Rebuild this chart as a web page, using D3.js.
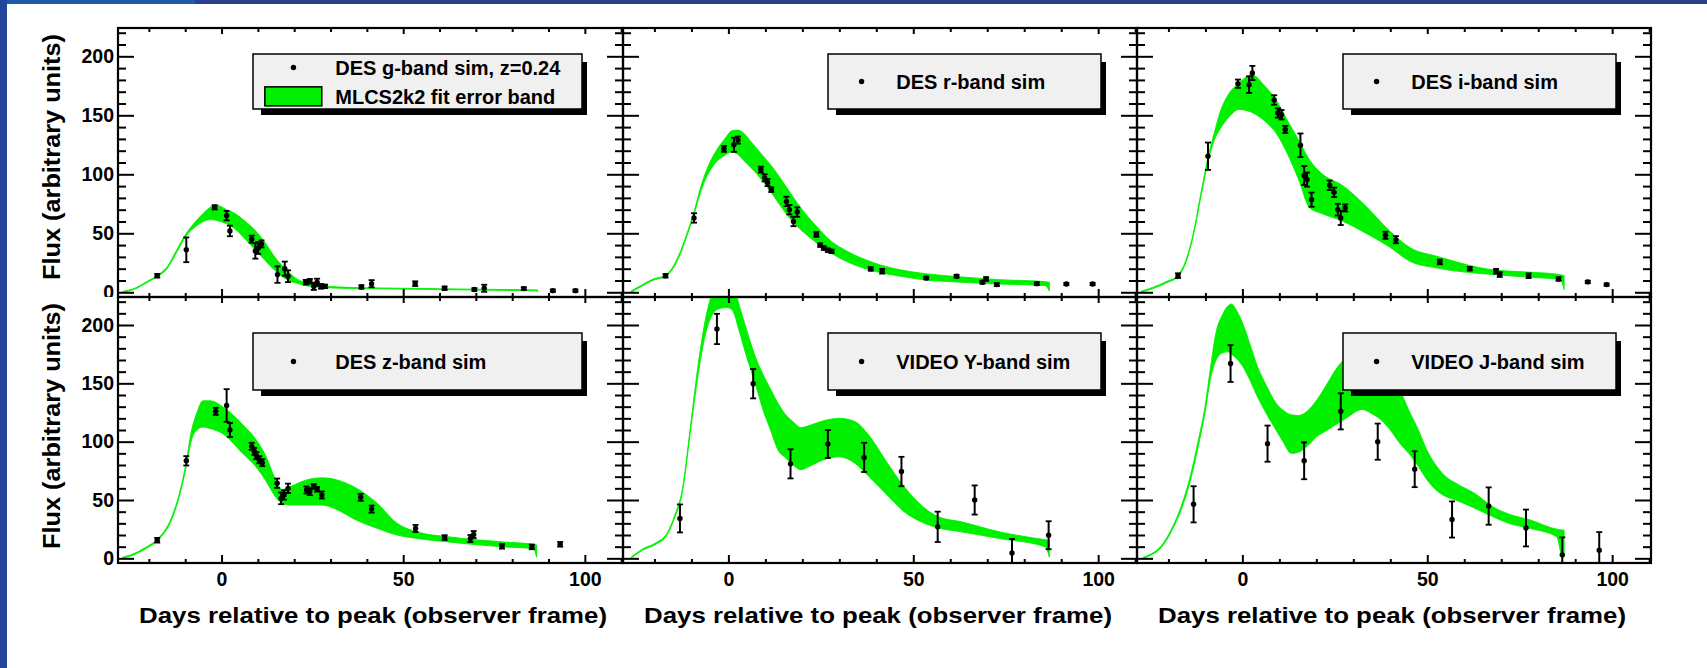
<!DOCTYPE html>
<html>
<head>
<meta charset="utf-8">
<script src="https://cdn.jsdelivr.net/npm/d3@7"></script>
<style>
  body { margin: 0; background: #fff; }
  text { font-family: "Liberation Sans", Arial, Helvetica, sans-serif; font-weight: bold; fill: #000; }
  .tick text { font-size: 19.5px; }
</style>
</head>
<body>
<div id="chart"></div>
<script>
// ---- data ----
// bands: [day, lower flux, upper flux]; points: [day, flux, error]
const gBand = [[-27.2,0,0.8],[-24,2.5,3.3],[-20.5,8.3,9.2],[-17.7,13.3,14.3],[-15,20,21.5],[-12.5,33,35],
  [-9.7,48,50],[-7,56,60.5],[-5,60,67],[-2.9,61.6,72.5],[-1.5,61,74],[1.4,58,70],[3.6,54,67],[5.8,47.5,62],
  [9.1,36.5,53],[12,27,42],[14.5,19,30.5],[18.9,9.3,16],[21,7.5,10.7],[23.2,5.6,8.5],[26,4.5,6.3],[30,3.7,4.8],
  [40,3.1,3.8],[50,2.7,3.4],[60,2.3,3],[70,1.9,2.6],[80,1.5,2.3],[86.5,1.3,2],[87,0.5,2]];
const gPoints = [[-17.7,14,1.5],[-9.7,36,10.5],[-1.9,72,1.8],[1.4,65,4],[2.3,52,4.5],[8.3,45,3],[9.3,35,6.5],
  [10.1,37.5,5],[11,41,3],[15.4,15,7],[17.4,20,6],[18.3,13.6,5],[23.2,8.5,2],[24.3,9.3,2],[25.4,5,3],[26.3,8.5,3],
  [27.4,5,2],[28.5,5,1.5],[38.5,4.5,1.5],[41.3,7.3,3],[53.3,7.3,2],[61.4,3.4,1.5],[69.6,2.3,1.2],[72.3,3.4,3],
  [83.2,3.1,1.2],[91.2,1.4,1],[97.4,1.4,1]];

const rBand = [[-26.3,0,1],[-23.8,4.5,5.5],[-20.5,10,11],[-17,13.5,14.5],[-15,20,21.5],[-13.4,29.5,31.5],
  [-11.3,47,49],[-9.3,66,68],[-7.5,85,89],[-6.2,95.5,101],[-3.1,111,121],[-1,116,130],[1,119,137],[2.5,117,137.5],
  [4.1,112,135],[6,106,128],[8.3,98,119.5],[12.4,81,104],[15.5,67,90],[19.6,53,71.5],[23.8,42,56],[27.9,33,43],
  [32,26,35],[39.3,18,25],[46.5,13.6,19],[52.7,10.7,16],[63,8.5,13],[73.3,7,10.7],[85.7,5.6,9],[86.8,1,8.5]];
const rPoints = [[-17,14,1.5],[-9.3,63,4],[-1.2,121.5,2.5],[1.5,125,6],[2.6,129,3],[8.8,104,2.5],[9.8,97,3],
  [10.6,93,3],[11.6,87,2],[15.7,77,4],[16.5,70,4],[17.6,60,4],[18.6,68,4],[23.8,49,2],[24.8,40,1.5],[25.8,37.5,1.5],
  [26.9,35.6,1.5],[27.9,34.7,1.5],[38.5,19.8,1.5],[41.6,17.8,2],[53.5,12.1,1.2],[61.7,13.6,1.2],[68.7,8.5,1.2],
  [69.7,11.3,1.5],[72.6,6.5,1.2],[83.4,7.3,1.2],[91.4,7,1],[98.5,7,1]];

const iBand = [[-27.3,0,1],[-24.3,3,4],[-20.5,8,9.2],[-17.4,13.3,14.5],[-15.3,25,27],[-13.2,49,51],[-11.1,83,86],
  [-9.1,113,117],[-7.6,129,135],[-6.1,138,152],[-3.5,149,169],[-1,155,177],[2.5,152.5,184.5],[6.1,145,174.6],
  [9.1,135,163],[12.1,118,146],[15.2,95.5,129],[18.2,71.5,112],[21.3,67,101],[27.3,60,90],[33.4,50,73],
  [39.5,39,53],[45.5,26,37.5],[52.6,20.6,30.5],[67.8,15,19],[77.9,12.7,17],[86,10.7,15],[87,2.3,14]];
const iPoints = [[-17.4,14.1,2],[-9.3,115.3,11.6],[-1.2,176.8,3.5],[1.8,176,7],[2.7,185.9,6],[8.6,163,4],
  [9.6,152,4],[10.6,150.5,4],[11.6,138,3],[15.7,124.6,10],[16.7,99,8],[17.5,95.5,6],[18.7,78.5,6],[23.6,90.7,4],
  [24.8,84.7,4],[25.8,70,5],[26.6,63,6],[27.8,71.5,3],[38.7,48.3,3],[41.5,44.6,3],[53.4,25.7,2],[61.5,20,1.5],
  [68.6,17.8,2],[69.6,15,2],[77.4,14,2],[85.5,11.3,1.5],[93.4,8.8,1],[98.5,6.5,1]];

const zBand = [[-27.2,0,1],[-24.8,2.2,3.2],[-21,8,9.2],[-17.7,15,16.3],[-13.9,32,34],[-11.7,52,54.5],
  [-9.7,79,83],[-8.4,100,107.5],[-6.8,110,124.7],[-5.1,112.6,135],[-2.9,111,135],[0,107.5,130.5],[5.8,90,114.7],
  [10.1,76,99],[12.3,66,87],[14.5,54.3,70],[16.7,47,59],[18.9,45.7,61.5],[23.2,45.7,67],[27.6,45.7,69],
  [32,41.4,67],[36.3,34,61.5],[42.9,25.6,47],[48.3,20,30],[53.8,17,22.7],[62.5,14,18.4],[77.8,9.8,14],
  [85.9,8.3,12],[86.7,1,11.5]];
const zPoints = [[-17.7,15.5,2],[-9.7,83.6,4],[-1.6,126,3],[1.4,131,14],[2.3,110,6],[8.3,96,3],[9,91.7,3],
  [9.6,88,3],[10.4,84.5,3],[11.2,82,3],[15.3,64.4,4],[16.4,51.4,5],[17.2,54.3,4],[18.3,60,4],[23.4,58.6,3],
  [24.3,57.2,3],[25.4,61.5,2],[26.3,59.2,2],[27.6,54.3,3],[38.3,52.3,3],[41.3,42.2,3],[53.4,25.6,3],[61.4,17.8,2],
  [68.5,17,3],[69.4,20.4,3],[77.2,10.3,2],[85.4,9.8,2],[93.2,12,2]];

const yBand = [[-26.3,0,1],[-23.2,7,8],[-19.6,12,13.3],[-16.5,20.5,22],[-14.5,35,37],[-12.4,57.5,60],
  [-10.3,108,112],[-8.3,155,163],[-6.2,192,205],[-4.5,208,226],[-2.5,214,236],[-0.5,215,236],[1,213,236],
  [3,194,216],[5,172,195],[7.2,150.6,173.6],[9.3,128,158],[11.4,110,145],[13.4,93,133],[15.5,86,123],
  [17.5,80,117],[19.6,76,112],[22,79,114],[25.8,84.5,118],[30,87,120],[34,82,117.5],[38.2,69.5,104.6],
  [42.4,56,84.5],[47.5,40,61.5],[52.7,30.5,44],[56.8,26,35.6],[63,22.7,31.3],[73.3,17,22.7],[85.7,9.8,16],
  [86.8,1,15.5]];
const yPoints = [[-13.1,34.2,12],[-3.1,196.6,13],[6.7,149.7,12.6],[16.8,81,12.5],[26.9,98,12],[36.7,86.5,12.5],
  [46.8,74.4,12.6],[56.6,27,13],[66.6,50,12.5],[76.7,4.6,12],[86.6,19.8,12]];

const jBand = [[-26.8,0,1],[-24.3,3.5,4.5],[-22,9,10.5],[-19.2,23,25],[-16.5,42,45],[-14.2,65,69],[-12,95,100],
  [-10.1,125,130],[-8.5,156,166],[-7.1,170,194],[-5.5,176,208],[-4,177,216],[-3,175,218],[-1.5,171,212],
  [0,165,202],[2,153,184],[4,139,165],[6.5,124,148],[9.1,110,133],[11,100,127],[13.2,90,123],[15.2,91,122.4],
  [17.5,96,126],[20.2,104.6,136],[23,110,150],[25.3,114.7,162],[28,120,172],[32.4,127.6,179],[35,124,179],
  [37.4,119,174],[40,110,160],[42.5,98.9,145],[45,90,127],[47.6,78.7,110],[50,67,92],[52.6,58,78.7],[55,53,70],
  [57.7,50,64.4],[62.8,43,55.7],[67.8,35.6,44],[72,30,38],[77.9,25.6,32.8],[85,18.4,25],[86.5,1.5,24.3],[87,1,24]];
const jPoints = [[-13.2,46.3,15.5],[-3.2,167,15.8],[6.8,98.3,15.5],[16.7,83.6,15.8],[26.6,126,15.5],
  [36.6,100,15.5],[46.6,76.4,15.4],[56.7,33.3,15.5],[66.6,44.8,16],[76.7,26,15.8],[86.5,3,15],[96.5,7,15.5]];

const legendLabels = ["DES g-band sim, z=0.24", "DES r-band sim", "DES i-band sim",
  "DES z-band sim", "VIDEO Y-band sim", "VIDEO J-band sim"];
const bandLabel = "MLCS2k2 fit error band";
const xTitle = "Days relative to peak (observer frame)";
const yTitle = "Flux (arbitrary units)";

const xMajorTicks = [0, 50, 100];
const xMinorTicks = [-20, -10, 10, 20, 30, 40, 60, 70, 80, 90, 110];
const yMajorTicks = [0, 50, 100, 150, 200];
const yMinorTicks = [10, 20, 30, 40, 60, 70, 80, 90, 110, 120, 130, 140, 160, 170, 180, 190, 210, 220];

// ---- layout ----
const width = 1707, height = 668;
const xDomain = [-28.5, 110.5];
const yDomain = [-4, 224];
const colX = [[118, 623], [623, 1137], [1137, 1651]];
const rowY = [[28, 297], [297, 563]];
const legendX = [[253, 582], [828, 1101], [1343, 1616]];
const legendY = [[54, 109], [333, 390]];
const green = "#00f000";

const svg = d3.select("#chart").append("svg")
  .attr("width", width)
  .attr("height", height);

// slide border
svg.append("rect").attr("x", 0).attr("y", 0).attr("width", width).attr("height", 4).attr("fill", "#2a3f8e");
svg.append("rect").attr("x", 0).attr("y", 0).attr("width", 195).attr("height", 4).attr("fill", "#1f5aa8");
svg.append("rect").attr("x", 0).attr("y", 0).attr("width", 7).attr("height", height).attr("fill", "#22469b");

// top pad clip (the top row's "0" label is cut by the lower pad)
svg.append("clipPath").attr("id", "topPad")
  .append("rect").attr("x", 0).attr("y", 0).attr("width", width).attr("height", rowY[0][1]);

const panels = [
  {band: gBand, points: gPoints, col: 0, row: 0},
  {band: rBand, points: rPoints, col: 1, row: 0},
  {band: iBand, points: iPoints, col: 2, row: 0},
  {band: zBand, points: zPoints, col: 0, row: 1},
  {band: yBand, points: yPoints, col: 1, row: 1},
  {band: jBand, points: jPoints, col: 2, row: 1}
];

const styleTicks = (sel) => {
  sel.select(".domain").remove();
  sel.selectAll("line").attr("stroke-width", 2);
};

panels.forEach((p, i) => {
  const [x0, x1] = colX[p.col];
  const [y0, y1] = rowY[p.row];
  const x = d3.scaleLinear().domain(xDomain).range([x0, x1]);
  const y = d3.scaleLinear().domain(yDomain).range([y1, y0]);
  const g = svg.append("g");

  const clipId = "frame" + i;
  svg.append("clipPath").attr("id", clipId)
    .append("rect")
      .attr("x", x0).attr("y", y0)
      .attr("width", x1 - x0).attr("height", y1 - y0);

  // error band
  const area = d3.area()
    .x(d => x(d[0]))
    .y0(d => y(d[1]))
    .y1(d => y(d[2]))
    .curve(d3.curveMonotoneX);
  g.append("path")
    .attr("d", area(p.band))
    .attr("fill", green)
    .attr("stroke", green)
    .attr("stroke-width", 0.9)
    .attr("clip-path", `url(#${clipId})`);

  // data points with error bars
  const pts = g.append("g").attr("clip-path", `url(#${clipId})`);
  pts.selectAll(".bar").data(p.points).join("line")
    .attr("class", "bar")
    .attr("x1", d => x(d[0])).attr("x2", d => x(d[0]))
    .attr("y1", d => y(d[1] - d[2])).attr("y2", d => y(d[1] + d[2]))
    .attr("stroke", "#000").attr("stroke-width", 2);
  [-1, 1].forEach(s => {
    pts.selectAll(".cap" + (s > 0 ? "u" : "d")).data(p.points).join("line")
      .attr("class", "cap" + (s > 0 ? "u" : "d"))
      .attr("x1", d => x(d[0]) - 3).attr("x2", d => x(d[0]) + 3)
      .attr("y1", d => y(d[1] + s * d[2])).attr("y2", d => y(d[1] + s * d[2]))
      .attr("stroke", "#000").attr("stroke-width", 1.8);
  });
  pts.selectAll("circle").data(p.points).join("circle")
    .attr("cx", d => x(d[0]))
    .attr("cy", d => y(d[1]))
    .attr("r", 2.7)
    .attr("fill", "#000");

  // frame
  g.append("rect")
    .attr("x", x0).attr("y", y0)
    .attr("width", x1 - x0).attr("height", y1 - y0)
    .attr("fill", "none").attr("stroke", "#000").attr("stroke-width", 2.2);

  // x axes (ticks point into the frame)
  const showX = p.row === 1;
  g.append("g").attr("transform", `translate(0,${y1})`)
    .call(d3.axisBottom(x).tickValues(xMajorTicks).tickSizeInner(-8).tickSizeOuter(0)
      .tickPadding(9).tickFormat(showX ? d3.format("d") : () => ""))
    .call(styleTicks);
  g.append("g").attr("transform", `translate(0,${y1})`)
    .call(d3.axisBottom(x).tickValues(xMinorTicks).tickSizeInner(-4).tickSizeOuter(0).tickFormat(() => ""))
    .call(styleTicks);
  g.append("g").attr("transform", `translate(0,${y0})`)
    .call(d3.axisTop(x).tickValues(xMajorTicks).tickSizeInner(-6).tickSizeOuter(0).tickFormat(() => ""))
    .call(styleTicks);
  g.append("g").attr("transform", `translate(0,${y0})`)
    .call(d3.axisTop(x).tickValues(xMinorTicks).tickSizeInner(-4).tickSizeOuter(0).tickFormat(() => ""))
    .call(styleTicks);

  // y axes
  const showY = p.col === 0;
  const leftWrap = g.append("g");
  if (p.row === 0) leftWrap.attr("clip-path", "url(#topPad)");
  leftWrap.append("g").attr("transform", `translate(${x0},0)`)
    .call(d3.axisLeft(y).tickValues(yMajorTicks).tickSizeInner(-16).tickSizeOuter(0)
      .tickPadding(4).tickFormat(showY ? d3.format("d") : () => ""))
    .call(styleTicks);
  g.append("g").attr("transform", `translate(${x0},0)`)
    .call(d3.axisLeft(y).tickValues(yMinorTicks).tickSizeInner(-8).tickSizeOuter(0).tickFormat(() => ""))
    .call(styleTicks);
  g.append("g").attr("transform", `translate(${x1},0)`)
    .call(d3.axisRight(y).tickValues(yMajorTicks).tickSizeInner(-16).tickSizeOuter(0).tickFormat(() => ""))
    .call(styleTicks);
  g.append("g").attr("transform", `translate(${x1},0)`)
    .call(d3.axisRight(y).tickValues(yMinorTicks).tickSizeInner(-8).tickSizeOuter(0).tickFormat(() => ""))
    .call(styleTicks);

  // axis titles
  if (showX) {
    g.append("text")
      .attr("x", x0 + 21).attr("y", 623)
      .attr("font-size", 22)
      .attr("textLength", 468).attr("lengthAdjust", "spacingAndGlyphs")
      .text(xTitle);
  }
  if (showY) {
    g.append("text")
      .attr("transform", `translate(60,${y0 + 6}) rotate(-90)`)
      .attr("text-anchor", "end")
      .attr("font-size", 23)
      .attr("textLength", 246).attr("lengthAdjust", "spacingAndGlyphs")
      .text(yTitle);
  }

  // legend
  const [lx0, lx1] = legendX[p.col];
  const [ly0, ly1] = legendY[p.row];
  const lw = lx1 - lx0, lh = ly1 - ly0;
  const leg = svg.append("g");
  leg.append("rect")
    .attr("x", lx0 + 8).attr("y", ly0 + 8)
    .attr("width", lw - 3).attr("height", lh - 2)
    .attr("fill", "#000");
  leg.append("rect")
    .attr("x", lx0).attr("y", ly0)
    .attr("width", lw).attr("height", lh)
    .attr("fill", "#f0f0f0").attr("stroke", "#000").attr("stroke-width", 1.5);

  const twoRows = i === 0;
  const cy = twoRows ? ly0 + 0.245 * lh : ly0 + lh / 2;
  leg.append("circle")
    .attr("cx", lx0 + 0.123 * lw).attr("cy", cy)
    .attr("r", 2.7).attr("fill", "#000");
  leg.append("text")
    .attr("x", lx0 + 0.25 * lw).attr("y", cy)
    .attr("dy", "0.36em")
    .attr("font-size", 20)
    .text(legendLabels[i]);
  if (twoRows) {
    const cy2 = ly0 + 0.77 * lh;
    leg.append("rect")
      .attr("x", lx0 + 0.036 * lw).attr("y", cy2 - 9.5)
      .attr("width", 0.173 * lw).attr("height", 19)
      .attr("fill", green).attr("stroke", "#000").attr("stroke-width", 1.5);
    leg.append("text")
      .attr("x", lx0 + 0.25 * lw).attr("y", cy2)
      .attr("dy", "0.36em")
      .attr("font-size", 20)
      .text(bandLabel);
  }
});
</script>
</body>
</html>
